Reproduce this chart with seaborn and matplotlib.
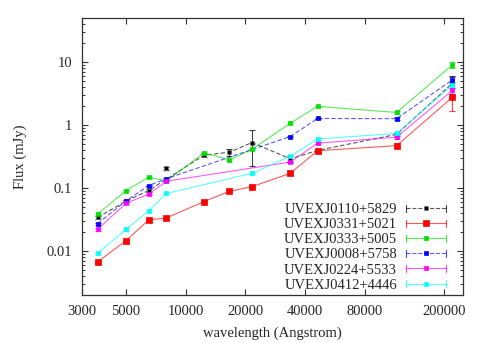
import matplotlib
matplotlib.use("Agg")
import matplotlib.pyplot as plt
from matplotlib.lines import Line2D
from matplotlib.legend_handler import HandlerBase
from matplotlib.ticker import FixedLocator, FixedFormatter, LogLocator, NullFormatter, NullLocator
import numpy as np
import pandas as pd
import seaborn as sns

# ---- data ----
wl = [3600, 5000, 6500, 8000, 12350, 16620, 21590, 33680, 46180, 115600, 220800]
nan = np.nan

names = ["UVEXJ0110+5829", "UVEXJ0331+5021", "UVEXJ0333+5005",
         "UVEXJ0008+5758", "UVEXJ0224+5533", "UVEXJ0412+4446"]

flux_0110 = [0.034, 0.062, 0.091, nan, 0.331, 0.37, 0.527, 0.29, 0.395, 0.71, 4.6]
flux_0331 = [0.0067, 0.0146, 0.031, 0.0335, 0.0607, 0.0885, 0.105, 0.171, 0.39, 0.47, 2.75]
flux_0333 = [0.0387, 0.091, 0.148, 0.13, 0.36, 0.28, 0.412, 1.07, 1.98, 1.58, 9.0]
flux_0008 = [0.0272, 0.0625, 0.109, 0.141, nan, nan, nan, 0.656, 1.27, 1.26, 5.2]
flux_0224 = [0.0221, 0.0572, 0.0795, 0.128, nan, nan, nan, 0.258, 0.515, 0.64, 3.54]
flux_0412 = [0.0092, 0.0221, 0.0433, 0.082, nan, nan, 0.171, 0.319, 0.6, 0.735, 4.3]

err_0110 = [0.002, 0.003, 0.004, nan, 0.02, 0.05, 0.3, 0.03, 0.02, 0.05, 1.5]
err_0331 = [0.0003, 0.0005, 0.001, 0.001, 0.002, 0.003, 0.004, 0.008, 0.02, 0.04, 1.1]
err_0333 = [0.001, 0.002, 0.003, 0.003, 0.01, 0.01, 0.01, 0.03, 0.05, 0.08, 0.85]
err_0008 = [0.001, 0.002, 0.003, 0.004, nan, nan, nan, 0.02, 0.03, 0.06, 0.5]
err_0224 = [0.001, 0.002, 0.002, 0.003, nan, nan, nan, 0.01, 0.02, 0.05, 0.4]
err_0412 = [0.0004, 0.001, 0.001, 0.002, nan, nan, 0.006, 0.01, 0.02, 0.05, 0.4]

# isolated point of UVEXJ0110+5829
extra_wl = [8000]
extra_flux = [0.204]
extra_err = [0.01]

fluxes = [flux_0110, flux_0331, flux_0333, flux_0008, flux_0224, flux_0412]
errors = [err_0110, err_0331, err_0333, err_0008, err_0224, err_0412]

colors = ["#000000", "#ff0000", "#00e000", "#0000ff", "#ff00ff", "#00ffff"]
dashed = [True, False, False, True, False, False]
msize = [10, 16, 12, 8, 8, 8]

rows = []
for n, f, e in zip(names, fluxes, errors):
    for w, v, ee in zip(wl, f, e):
        rows.append({"wl": w, "flux": v, "err": ee, "src": n})
df = pd.DataFrame(rows).dropna()

# ---- plot ----
sns.set_style("ticks")
plt.rcParams["font.family"] = ["Liberation Serif", "DejaVu Serif"]

fig = plt.figure(figsize=(4.91, 3.43), dpi=100)
ax = fig.add_axes([0.167, 0.14, 0.776, 0.8075])

palette = dict(zip(names, colors))
dash_map = {n: ((4, 2) if d else "") for n, d in zip(names, dashed)}

sns.lineplot(data=df, x="wl", y="flux", hue="src", style="src", palette=palette,
             dashes=dash_map, estimator=None, sort=True, lw=0.8, alpha=0.65,
             legend=False, ax=ax)

for n, c, s in zip(names, colors, msize):
    sub = df[df["src"] == n]
    ax.errorbar(sub["wl"], sub["flux"], yerr=sub["err"], fmt="none", ecolor=c,
                elinewidth=0.8, capsize=2.2, capthick=0.8, alpha=0.75, zorder=3)
    sns.scatterplot(data=sub, x="wl", y="flux", color=c, marker="s", s=s,
                    edgecolor=("#777777" if c == "#000000" else c), linewidth=0.5,
                    legend=False, ax=ax, zorder=4)

ax.errorbar(extra_wl, extra_flux, yerr=extra_err, fmt="none", ecolor="black",
            elinewidth=0.8, capsize=2.2, alpha=0.75, zorder=3)
sns.scatterplot(x=extra_wl, y=extra_flux, color="black", marker="s", s=10,
                edgecolor="#777777", linewidth=0.5, legend=False, ax=ax, zorder=4)

ax.set_xscale("log")
ax.set_yscale("log")
ax.set_xlim(3000, 250000)
ax.set_ylim(0.002, 50)

xt = [3000, 5000, 10000, 20000, 40000, 80000, 200000]
ax.xaxis.set_major_locator(FixedLocator(xt))
ax.xaxis.set_major_formatter(FixedFormatter([str(t) for t in xt]))
ax.xaxis.set_minor_locator(NullLocator())
yt = [0.01, 0.1, 1, 10]
ax.yaxis.set_major_locator(FixedLocator(yt))
ax.yaxis.set_major_formatter(FixedFormatter(["0.01", "0.1", "1", "10"]))
ax.yaxis.set_minor_locator(LogLocator(base=10, subs=np.arange(2, 10)))
ax.yaxis.set_minor_formatter(NullFormatter())

ax.tick_params(which="both", direction="in", top=True, right=True, labelsize=10.5,
               color="#333333")
ax.tick_params(which="major", length=4.5, width=0.8)
ax.tick_params(which="minor", length=2.5, width=0.7)
ax.tick_params(axis="x", pad=7)
ax.tick_params(axis="y", pad=7)
for sp in ax.spines.values():
    sp.set_color("#333333")
    sp.set_linewidth(0.9)

ax.set_xlabel("wavelength (Angstrom)", fontsize=10.5, labelpad=6)
ax.set_ylabel("Flux (mJy)", fontsize=10.5, labelpad=14)


class GnuHandler(HandlerBase):
    # line with end caps and a marker in the middle, gnuplot style
    def create_artists(self, legend, orig, xd, yd, w, h, fs, trans):
        y = h / 2 - yd
        x0, x1 = -xd, w - xd
        c = orig.get_color()
        arts = [
            Line2D([x0, x1], [y, y], color=c, ls=orig.get_linestyle(), lw=0.8, alpha=0.65),
            Line2D([x0, x0], [y - 2.5, y + 2.5], color=c, lw=0.8, alpha=0.75),
            Line2D([x1, x1], [y - 2.5, y + 2.5], color=c, lw=0.8, alpha=0.75),
            Line2D([(x0 + x1) / 2], [y], marker="s", ms=orig.get_markersize(), color=c,
                   mec=orig.get_markeredgecolor(), mew=0.5, ls="none"),
        ]
        for a in arts:
            a.set_transform(trans)
        return arts


handles = []
for n, c, d, s in zip(names, colors, dashed, msize):
    handles.append(Line2D([], [], color=c, ls=("--" if d else "-"), marker="s",
                          ms=np.sqrt(s),
                          mec=("#777777" if c == "#000000" else c)))

ax.legend(handles, names, handler_map={Line2D: GnuHandler()}, loc="lower right",
          bbox_to_anchor=(0.955, 0.012), frameon=False, markerfirst=False,
          fontsize=10.5, handlelength=2.75, handletextpad=0.6, labelspacing=0.13,
          borderpad=0, borderaxespad=0)

fig.savefig("out.png", dpi=100)
